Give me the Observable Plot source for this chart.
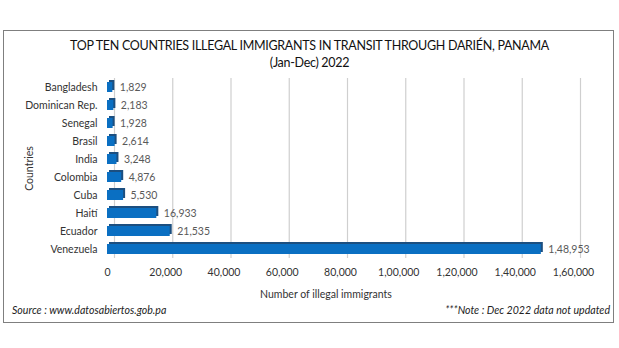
<!DOCTYPE html>
<html><head><meta charset="utf-8">
<script src="https://cdn.jsdelivr.net/npm/d3@7"></script>
<script src="https://cdn.jsdelivr.net/npm/@observablehq/plot@0.6"></script>
<style>
body{margin:0;background:#fff;font-family:Lato,"Open Sans",sans-serif;}
#wrap{position:relative;width:619px;height:348px;}
#box{position:absolute;left:3px;top:30px;width:609px;height:291px;border:1px solid #7f7f7f;}
.t{position:absolute;left:0;width:619px;text-align:center;font-size:12.5px;letter-spacing:-0.3px;color:#111;}
#chart{position:absolute;left:0;top:72px;}
.f{position:absolute;top:304px;font-size:10.6px;font-style:italic;color:#222;}
#xl{position:absolute;top:288px;left:226px;width:200px;text-align:center;font-size:10.5px;color:#333;}
</style></head>
<body><div id="wrap">
<div id="box"></div>
<div class="t" style="top:38px">TOP TEN COUNTRIES ILLEGAL IMMIGRANTS IN TRANSIT THROUGH DARIÉN, PANAMA</div>
<div class="t" style="top:55px">(Jan-Dec) 2022</div>
<div id="chart"></div>
<div id="xl">Number of illegal immigrants</div>
<div class="f" style="left:12px">Source : www.datosabiertos.gob.pa</div>
<div class="f" style="right:9px">***Note : Dec 2022 data not updated</div>
</div>
<script>
const countries = ["Bangladesh","Dominican Rep.","Senegal","Brasil","India","Colombia","Cuba","Haití","Ecuador","Venezuela"];
const values = [1829,2183,1928,2614,3248,4876,5530,16933,21535,148953];
const ticks = [0,20000,40000,60000,80000,100000,120000,140000,160000];

function inFmt(n){
  const s = String(Math.round(n));
  if (s.length <= 3) return s;
  const last3 = s.slice(-3);
  let rest = s.slice(0,-3);
  const parts = [];
  while (rest.length > 2){ parts.unshift(rest.slice(-2)); rest = rest.slice(0,-2); }
  if (rest.length) parts.unshift(rest);
  return parts.join(",") + "," + last3;
}
const data = countries.map((c,i)=>({country:c, value:values[i]}));

const chart = Plot.plot({
  width: 619, height: 232,
  marginLeft: 107, marginRight: 46, marginTop: 6, marginBottom: 46,
  style: {fontFamily: "Lato, 'Open Sans', sans-serif", fontSize: "10.5px", color: "#333"},
  x: {domain: [0,160000]},
  y: {domain: countries, paddingInner: 0.45, paddingOuter: 0.225},
  marks: [
    Plot.ruleX(ticks, {x: d => d, stroke: "#cfcfcf", strokeOpacity: 1, strokeWidth: 1.2, dx: 7}),
    Plot.axisX({ticks, tickSize: 0, tickPadding: 10, tickFormat: inFmt, fontSize: 10.5, label: null}),
    Plot.axisY({tickSize: 0, tickPadding: 10, fontSize: 10.5,
      label: "Countries", labelAnchor: "center", labelArrow: "none", labelOffset: 82}),
    Plot.barX(data, {y: "country", x: "value", fill: "#1c4f80", dx: 2, dy: -2}),
    Plot.barX(data, {y: "country", x: "value", fill: "#0a6fc2"}),
    Plot.text(data, {y: "country", x: "value", text: d => inFmt(d.value), dx: 7, textAnchor: "start", fill: "#595959", fontSize: 10.5})
  ]
});
document.getElementById("chart").appendChild(chart);
</script>
</body></html>
